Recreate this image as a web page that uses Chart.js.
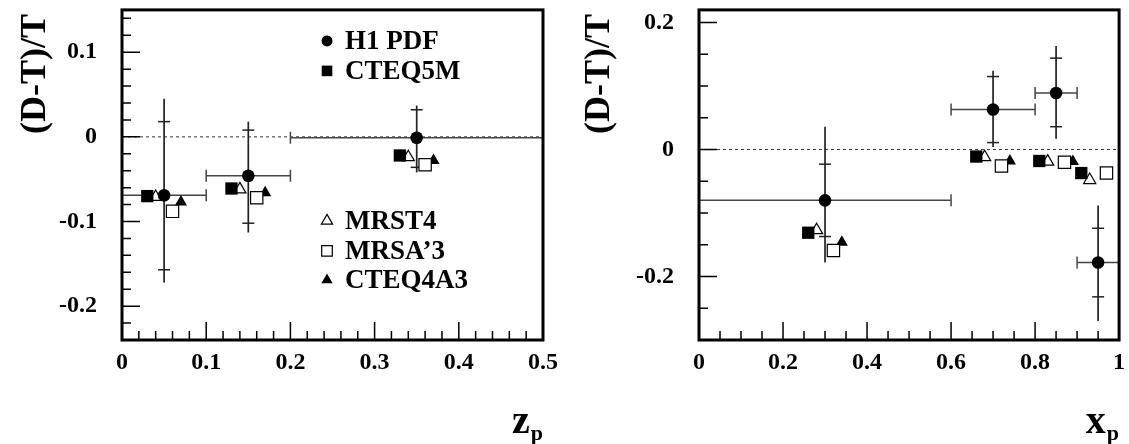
<!DOCTYPE html>
<html>
<head>
<meta charset="utf-8">
<script src="https://cdn.jsdelivr.net/npm/chart.js@4.4.1/dist/chart.umd.min.js"></script>
<style>
  html, body { margin: 0; padding: 0; background: #fff; }
  #wrap { position: relative; width: 1129px; height: 444px; }
  canvas { position: absolute; top: 0; }
</style>
</head>
<body>
<div id="wrap">
  <canvas id="zpChart" width="564" height="444" style="left:0"></canvas>
  <canvas id="xpChart" width="565" height="444" style="left:564px"></canvas>
</div>
<script>
// ---- z_p panel ----
const zpBinCentre = [0.05, 0.15, 0.35];
const zpBinLow = [0.0, 0.1, 0.2];
const zpBinHigh = [0.1, 0.2, 0.5];
const zpH1 = [-0.069, -0.046, -0.001];
const zpStatHigh = [0.018, 0.008, 0.032];
const zpStatLow = [-0.157, -0.102, -0.036];
const zpTotHigh = [0.045, 0.018, 0.037];
const zpTotLow = [-0.172, -0.113, -0.042];

const zpCteq5mX = [0.03, 0.13, 0.33];
const zpCteq5m = [-0.070, -0.061, -0.022];
const zpMrst4X = [0.04, 0.14, 0.34];
const zpMrst4 = [-0.071, -0.062, -0.024];
const zpMrsa3X = [0.06, 0.16, 0.36];
const zpMrsa3 = [-0.088, -0.072, -0.033];
const zpCteq4a3X = [0.07, 0.17, 0.37];
const zpCteq4a3 = [-0.077, -0.066, -0.028];

const zpXTicks = [0, 0.1, 0.2, 0.3, 0.4, 0.5];
const zpXTickLabels = ['0', '0.1', '0.2', '0.3', '0.4', '0.5'];
const zpYTicks = [0.1, 0, -0.1, -0.2];
const zpYTickLabels = ['0.1', '0', '-0.1', '-0.2'];

// ---- x_p panel ----
const xpBinCentre = [0.3, 0.7, 0.85, 0.95];
const xpBinLow = [0.0, 0.6, 0.8, 0.9];
const xpBinHigh = [0.6, 0.8, 0.9, 1.0];
const xpH1 = [-0.080, 0.063, 0.089, -0.178];
const xpStatHigh = [-0.023, 0.115, 0.144, -0.124];
const xpStatLow = [-0.137, 0.011, 0.036, -0.232];
const xpTotHigh = [0.036, 0.124, 0.163, -0.088];
const xpTotLow = [-0.178, 0.004, 0.017, -0.270];

const xpCteq5mX = [0.26, 0.66, 0.81, 0.91];
const xpCteq5m = [-0.131, -0.011, -0.018, -0.037];
const xpMrst4X = [0.28, 0.68, 0.83, 0.93];
const xpMrst4 = [-0.127, -0.012, -0.019, -0.048];
const xpMrsa3X = [0.32, 0.72, 0.87, 0.97];
const xpMrsa3 = [-0.159, -0.026, -0.020, -0.037];
const xpCteq4a3X = [0.34, 0.74, 0.89];
const xpCteq4a3 = [-0.146, -0.018, -0.019];

const xpXTicks = [0, 0.2, 0.4, 0.6, 0.8, 1];
const xpXTickLabels = ['0', '0.2', '0.4', '0.6', '0.8', '1'];
const xpYTicks = [0.2, 0, -0.2];
const xpYTickLabels = ['0.2', '0', '-0.2'];

const legendNames = ['H1 PDF', 'CTEQ5M', 'MRST4', "MRSA\u20193", 'CTEQ4A3'];

const SERIF = '"Liberation Serif", "Times New Roman", serif';

const pts = (xs, ys) => xs.map((x, i) => ({ x, y: ys[i] }));

// marker styles shared by both panels
function makeDatasets(d) {
  return [
    { label: legendNames[0], data: pts(d.binCentre, d.h1), pointStyle: 'circle', pointRadius: 6.3,
      backgroundColor: '#000', borderColor: '#000', borderWidth: 0 },
    { label: legendNames[1], data: pts(d.cteq5mX, d.cteq5m), pointStyle: 'rect', pointRadius: 8.7,
      backgroundColor: '#000', borderColor: '#000', borderWidth: 0 },
    { label: legendNames[2], data: pts(d.mrst4X, d.mrst4), pointStyle: 'triangle', pointRadius: 7,
      backgroundColor: '#fff', borderColor: '#000', borderWidth: 1.2 },
    { label: legendNames[3], data: pts(d.mrsa3X, d.mrsa3), pointStyle: 'rect', pointRadius: 8.7,
      backgroundColor: '#fff', borderColor: '#000', borderWidth: 1.2 },
    { label: legendNames[4], data: pts(d.cteq4a3X, d.cteq4a3), pointStyle: 'triangle', pointRadius: 7,
      backgroundColor: '#000', borderColor: '#000', borderWidth: 0 }
  ];
}

// minor tick positions between min and max, skipping the labelled ones
function minorValues(min, max, step, majors) {
  const out = [];
  const n = Math.floor((max - min) / step + 1e-6);
  for (let i = 0; i <= n; i++) {
    const v = +(min + i * step).toFixed(6);
    if (v > max + 1e-9) break;
    if (!majors.some(m => Math.abs(m - v) < 1e-6)) out.push(v);
  }
  return out;
}

// ROOT-style frame, inward ticks, error bars, titles and legend
function panelPlugin(p) {
  return {
    id: 'panel',
    beforeDatasetsDraw(chart) {
      const { ctx, chartArea: a, scales: { x, y } } = chart;
      ctx.save();
      ctx.beginPath();
      ctx.rect(a.left, a.top, a.right - a.left, a.bottom - a.top);
      ctx.clip();

      const y0 = y.getPixelForValue(0);
      ctx.setLineDash([3, 3]);
      ctx.strokeStyle = '#333';
      ctx.lineWidth = 1;
      ctx.beginPath();
      ctx.moveTo(a.left, y0);
      ctx.lineTo(a.right, y0);
      ctx.stroke();
      ctx.setLineDash([]);

      const d = p.data;
      d.binCentre.forEach((xv, i) => {
        const px = x.getPixelForValue(xv);
        const py = y.getPixelForValue(d.h1[i]);
        const xl = x.getPixelForValue(d.binLow[i]);
        const xh = x.getPixelForValue(d.binHigh[i]);
        // bin width
        ctx.strokeStyle = '#444';
        ctx.lineWidth = 1.5;
        ctx.beginPath();
        ctx.moveTo(xl, py); ctx.lineTo(xh, py);
        ctx.moveTo(xl, py - 6); ctx.lineTo(xl, py + 6);
        ctx.moveTo(xh, py - 6); ctx.lineTo(xh, py + 6);
        ctx.stroke();
        // total error
        ctx.strokeStyle = '#222';
        ctx.lineWidth = 1.7;
        ctx.beginPath();
        ctx.moveTo(px, y.getPixelForValue(d.totHigh[i]));
        ctx.lineTo(px, y.getPixelForValue(d.totLow[i]));
        ctx.stroke();
        // statistical error ticks
        ctx.lineWidth = 1.5;
        [d.statHigh[i], d.statLow[i]].forEach(v => {
          const ty = y.getPixelForValue(v);
          ctx.beginPath();
          ctx.moveTo(px - 6, ty); ctx.lineTo(px + 6, ty);
          ctx.stroke();
        });
      });
      ctx.restore();
    },
    afterDraw(chart) {
      const { ctx, chartArea: a, scales: { x, y } } = chart;
      ctx.save();
      ctx.strokeStyle = '#000';
      ctx.fillStyle = '#000';

      // inward tick marks
      ctx.lineWidth = 1.5;
      ctx.beginPath();
      p.xTicks.forEach(v => {
        const px = x.getPixelForValue(v);
        ctx.moveTo(px, a.bottom); ctx.lineTo(px, a.bottom - 18);
      });
      minorValues(x.min, x.max, p.xMinor, p.xTicks).forEach(v => {
        const px = x.getPixelForValue(v);
        ctx.moveTo(px, a.bottom); ctx.lineTo(px, a.bottom - 9);
      });
      p.yTicks.forEach(v => {
        const py = y.getPixelForValue(v);
        ctx.moveTo(a.left, py); ctx.lineTo(a.left + 18, py);
      });
      minorValues(p.yMinorStart, y.max, p.yMinor, p.yTicks).forEach(v => {
        const py = y.getPixelForValue(v);
        ctx.moveTo(a.left, py); ctx.lineTo(a.left + 9, py);
      });
      ctx.stroke();

      // frame
      ctx.lineWidth = 3;
      ctx.strokeRect(a.left, a.top, a.right - a.left, a.bottom - a.top);

      // tick labels
      ctx.font = 'bold 24px ' + SERIF;
      ctx.textAlign = 'center';
      ctx.textBaseline = 'middle';
      p.xTicks.forEach((v, i) => ctx.fillText(p.xTickLabels[i], x.getPixelForValue(v), a.bottom + 23));
      ctx.textAlign = 'right';
      p.yTicks.forEach((v, i) => ctx.fillText(p.yTickLabels[i], a.left - 25, y.getPixelForValue(v)));

      // y title, aligned to the top of the axis
      ctx.save();
      ctx.translate(a.left - p.yTitleOffset, a.top + 4);
      ctx.rotate(-Math.PI / 2);
      ctx.font = 'bold 36px ' + SERIF;
      ctx.textAlign = 'right';
      ctx.textBaseline = 'middle';
      ctx.fillText('(D-T)/T', 0, 0);
      ctx.restore();

      // x title with subscript, aligned to the right end of the axis
      ctx.textBaseline = 'alphabetic';
      ctx.textAlign = 'right';
      ctx.font = 'bold 22px ' + SERIF;
      const subW = ctx.measureText('p').width;
      ctx.fillText('p', a.right, a.bottom + 100);
      ctx.font = 'bold 40px ' + SERIF;
      ctx.fillText(p.xTitle, a.right - subW - 1, a.bottom + 93);

      // legend
      if (p.legend) {
        ctx.font = 'bold 27px ' + SERIF;
        ctx.textAlign = 'left';
        ctx.textBaseline = 'middle';
        p.legend.forEach(([idx, ly]) => {
          const ds = chart.data.datasets[idx];
          const mx = a.left + 205, my = a.top + ly;
          ctx.fillStyle = ds.backgroundColor;
          ctx.strokeStyle = ds.borderColor;
          ctx.lineWidth = ds.borderWidth;
          const r = ds.pointStyle === 'circle' ? 5.5 : (ds.pointStyle === 'rect' ? 7.5 : 6.5);
          Chart.helpers.drawPoint(ctx, { pointStyle: ds.pointStyle, radius: r, borderWidth: ds.borderWidth, rotation: 0 }, mx, my);
          ctx.fillStyle = '#000';
          ctx.fillText(ds.label, mx + 18, my + 1);
        });
      }
      ctx.restore();
    }
  };
}

function makeChart(id, d, p, padding) {
  return new Chart(document.getElementById(id), {
    type: 'scatter',
    data: { datasets: makeDatasets(d) },
    options: {
      responsive: false,
      devicePixelRatio: 1,
      animation: false,
      layout: { padding },
      plugins: { legend: { display: false }, tooltip: { enabled: false } },
      scales: {
        x: { type: 'linear', min: p.xMin, max: p.xMax, display: false },
        y: { type: 'linear', min: p.yMin, max: p.yMax, display: false }
      }
    },
    plugins: [panelPlugin(Object.assign({ data: d }, p))]
  });
}

makeChart('zpChart', {
  binCentre: zpBinCentre, binLow: zpBinLow, binHigh: zpBinHigh, h1: zpH1,
  statHigh: zpStatHigh, statLow: zpStatLow, totHigh: zpTotHigh, totLow: zpTotLow,
  cteq5mX: zpCteq5mX, cteq5m: zpCteq5m, mrst4X: zpMrst4X, mrst4: zpMrst4,
  mrsa3X: zpMrsa3X, mrsa3: zpMrsa3, cteq4a3X: zpCteq4a3X, cteq4a3: zpCteq4a3
}, {
  xMin: 0, xMax: 0.5, yMin: -0.24, yMax: 0.15,
  xTicks: zpXTicks, xTickLabels: zpXTickLabels, xMinor: 0.02,
  yTicks: zpYTicks, yTickLabels: zpYTickLabels, yMinor: 0.02, yMinorStart: -0.24,
  xTitle: 'z', yTitleOffset: 86,
  legend: [[0, 31], [1, 61], [2, 211], [3, 241], [4, 270]]
}, { left: 122, right: 21, top: 7, bottom: 104 });

makeChart('xpChart', {
  binCentre: xpBinCentre, binLow: xpBinLow, binHigh: xpBinHigh, h1: xpH1,
  statHigh: xpStatHigh, statLow: xpStatLow, totHigh: xpTotHigh, totLow: xpTotLow,
  cteq5mX: xpCteq5mX, cteq5m: xpCteq5m, mrst4X: xpMrst4X, mrst4: xpMrst4,
  mrsa3X: xpMrsa3X, mrsa3: xpMrsa3, cteq4a3X: xpCteq4a3X, cteq4a3: xpCteq4a3
}, {
  xMin: 0, xMax: 1, yMin: -0.3, yMax: 0.22,
  xTicks: xpXTicks, xTickLabels: xpXTickLabels, xMinor: 0.05,
  yTicks: xpYTicks, yTickLabels: xpYTickLabels, yMinor: 0.05, yMinorStart: -0.25,
  xTitle: 'x', yTitleOffset: 99,
  legend: null
}, { left: 135, right: 8, top: 7, bottom: 104 });
</script>
</body>
</html>
